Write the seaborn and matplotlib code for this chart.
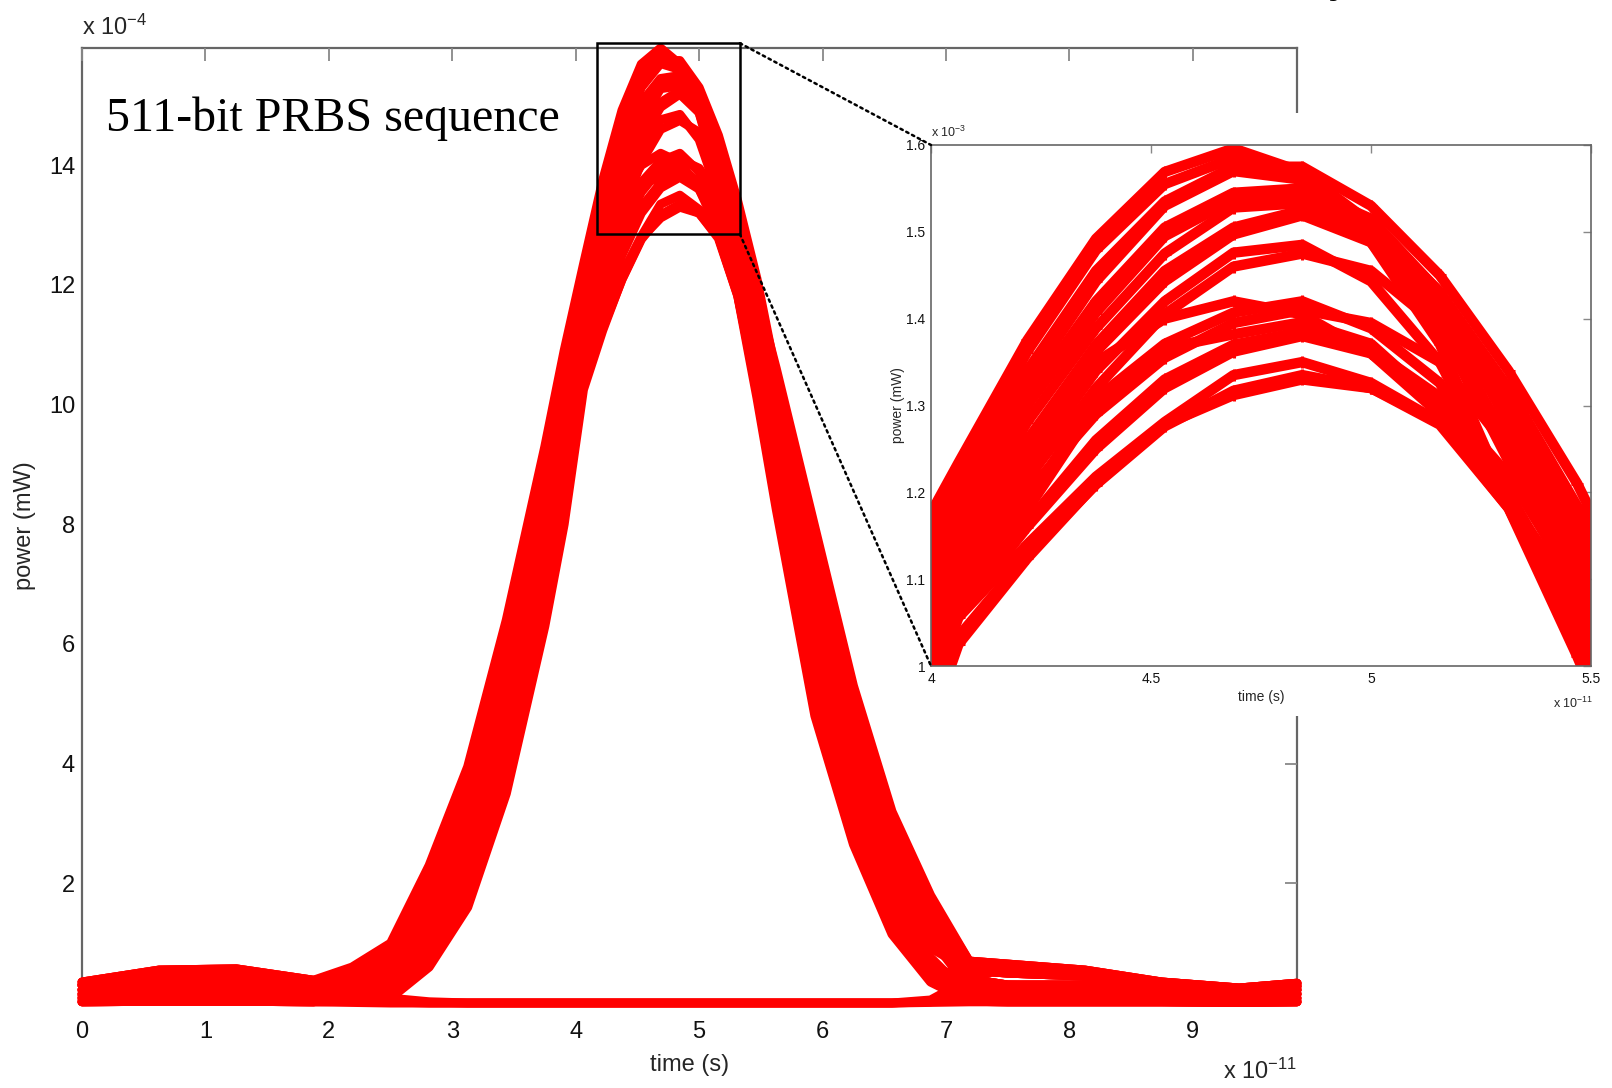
import matplotlib
matplotlib.use('Agg')
from matplotlib import pyplot as plt
from matplotlib.patches import Rectangle, ConnectionPatch
import pandas as pd
import seaborn as sns

# time in units of 1e-11 s, power in units of 1e-4 mW
t_grid = [0.0, 0.625, 1.25, 1.875, 2.1875, 2.5, 2.8125, 3.125, 3.4375, 3.75, 3.90625,
          4.0625, 4.21875, 4.375, 4.53125, 4.6875, 4.84375, 5.0, 5.15625, 5.3125, 5.46875,
          5.625, 5.9375, 6.25, 6.5625, 6.875, 7.1875, 7.5, 8.125, 8.75, 9.375, 9.84375]

one_a1 = [0.35, 0.55, 0.57, 0.38, 0.60, 1.00, 2.30, 3.95, 6.40, 9.30, 10.90, 12.34, 13.75, 14.92, 15.69, 15.96,
          15.69, 15.00, 13.90, 12.50, 10.90, 9.33, 6.25, 3.87, 2.09, 1.02, 0.55, 0.50, 0.45, 0.30, 0.20, 0.28]
one_a2 = [0.30, 0.45, 0.47, 0.32, 0.55, 0.93, 2.16, 3.76, 6.17, 9.06, 10.67, 12.18, 13.62, 14.79, 15.55, 15.85,
          15.69, 15.10, 14.31, 13.20, 11.84, 10.60, 7.95, 5.30, 3.20, 1.80, 0.70, 0.65, 0.55, 0.35, 0.25, 0.33]
one_a3 = [0.22, 0.35, 0.33, 0.25, 0.45, 0.77, 1.88, 3.36, 5.68, 8.55, 10.18, 11.82, 13.26, 14.43, 15.30, 15.70,
          15.60, 15.05, 14.10, 12.90, 11.50, 10.13, 7.32, 4.77, 2.79, 1.51, 0.40, 0.30, 0.30, 0.22, 0.15, 0.22]
one_b1 = [0.35, 0.55, 0.57, 0.38, 0.42, 0.71, 1.77, 3.22, 5.50, 8.37, 10.00, 11.69, 13.00, 14.07, 14.95, 15.37,
          15.44, 15.00, 14.02, 12.54, 11.24, 9.78, 6.85, 4.37, 2.48, 1.29, 0.70, 0.65, 0.55, 0.35, 0.25, 0.33]
one_b2 = [0.15, 0.22, 0.20, 0.15, 0.35, 0.61, 1.59, 2.96, 5.18, 8.04, 9.68, 11.46, 12.81, 13.89, 14.75, 15.28,
          15.33, 14.88, 13.90, 12.36, 11.00, 9.45, 6.41, 4.00, 2.20, 1.09, 0.25, 0.20, 0.20, 0.15, 0.10, 0.15]
one_c1 = [0.30, 0.45, 0.47, 0.32, 0.30, 0.51, 1.40, 2.70, 4.86, 7.71, 9.36, 11.24, 12.45, 13.62, 14.43, 14.97,
          15.19, 14.88, 13.71, 11.91, 10.79, 9.17, 6.03, 3.68, 1.95, 0.92, 0.55, 0.50, 0.45, 0.30, 0.20, 0.28]
one_c2 = [0.08, 0.12, 0.10, 0.07, 0.25, 0.46, 1.30, 2.56, 4.69, 7.53, 9.19, 11.10, 12.30, 13.40, 14.20, 14.76,
          14.85, 14.43, 13.50, 12.00, 10.60, 8.91, 5.68, 3.39, 1.72, 0.76, 0.12, 0.10, 0.10, 0.08, 0.05, 0.08]
one_d1 = [0.22, 0.35, 0.33, 0.25, 0.20, 0.37, 1.13, 2.33, 4.40, 7.23, 8.90, 10.90, 11.91, 13.08, 13.71, 14.07,
          14.20, 13.89, 13.26, 11.90, 10.40, 8.65, 5.34, 3.10, 1.50, 0.60, 0.40, 0.30, 0.30, 0.22, 0.15, 0.22]
one_d2 = [0.02, 0.03, 0.03, 0.02, 0.17, 0.32, 1.04, 2.21, 4.25, 7.08, 8.75, 10.80, 11.80, 12.99, 13.66, 13.82,
          13.96, 13.71, 13.00, 11.85, 10.35, 8.58, 5.24, 3.02, 1.44, 0.55, 0.03, 0.02, 0.02, 0.02, 0.01, 0.02]
one_e1 = [0.15, 0.22, 0.20, 0.15, 0.12, 0.21, 0.84, 1.93, 3.91, 6.72, 8.41, 10.56, 11.40, 12.18, 12.81, 13.35,
          13.50, 13.26, 12.81, 11.82, 10.29, 8.49, 5.12, 2.92, 1.36, 0.50, 0.25, 0.20, 0.20, 0.15, 0.10, 0.15]
one_e2 = [0.08, 0.12, 0.10, 0.07, 0.06, 0.12, 0.67, 1.69, 3.62, 6.42, 8.12, 10.34, 11.28, 12.09, 12.76, 13.17,
          13.35, 13.20, 12.81, 11.85, 10.20, 8.37, 4.96, 2.78, 1.25, 0.42, 0.12, 0.10, 0.10, 0.08, 0.05, 0.08]
one_e3 = [0.02, 0.03, 0.03, 0.02, 0.03, 0.08, 0.60, 1.60, 3.50, 6.30, 8.00, 10.25, 11.24, 12.10, 12.78, 13.12,
          13.30, 13.20, 12.78, 11.82, 10.11, 8.25, 4.80, 2.65, 1.15, 0.35, 0.03, 0.02, 0.02, 0.02, 0.01, 0.02]
one_f1 = [0.30, 0.45, 0.47, 0.32, 0.52, 0.88, 2.08, 3.64, 6.02, 8.91, 10.52, 12.00, 13.40, 14.55, 15.35, 15.75,
          15.75, 15.30, 14.50, 13.40, 12.10, 10.48, 7.79, 5.17, 3.10, 1.73, 0.70, 0.65, 0.55, 0.35, 0.25, 0.33]
one_f2 = [0.22, 0.35, 0.33, 0.25, 0.40, 0.68, 1.71, 3.13, 5.39, 8.25, 9.89, 11.60, 13.10, 14.20, 15.05, 15.45,
          15.50, 15.15, 14.30, 13.00, 11.70, 10.41, 7.70, 5.09, 3.04, 1.68, 0.55, 0.50, 0.45, 0.30, 0.20, 0.28]
one_f3 = [0.15, 0.22, 0.20, 0.15, 0.33, 0.57, 1.50, 2.85, 5.04, 7.89, 9.54, 11.35, 12.60, 13.70, 14.55, 15.05,
          15.25, 15.00, 14.20, 12.80, 11.40, 10.01, 7.16, 4.64, 2.69, 1.44, 0.40, 0.30, 0.30, 0.22, 0.15, 0.22]
one_f4 = [0.08, 0.12, 0.10, 0.07, 0.22, 0.41, 1.21, 2.45, 4.54, 7.38, 9.04, 11.00, 12.15, 13.20, 14.05, 14.60,
          14.75, 14.55, 13.90, 12.60, 11.20, 9.73, 6.78, 4.32, 2.44, 1.26, 0.55, 0.50, 0.45, 0.30, 0.20, 0.28]
one_f5 = [0.35, 0.55, 0.57, 0.38, 0.33, 0.38, 1.16, 2.38, 4.46, 7.29, 8.96, 10.95, 12.00, 12.90, 13.55, 13.95,
          14.10, 13.95, 13.50, 12.50, 11.10, 9.61, 6.63, 4.19, 2.34, 1.19, 0.25, 0.20, 0.20, 0.15, 0.10, 0.15]
one_f6 = [0.02, 0.03, 0.03, 0.02, 0.14, 0.27, 0.96, 2.09, 4.11, 6.93, 8.61, 10.70, 11.65, 12.60, 13.30, 13.70,
          13.85, 13.65, 13.10, 12.20, 10.90, 9.33, 6.25, 3.87, 2.09, 1.02, 0.40, 0.30, 0.30, 0.22, 0.15, 0.22]
one_f7 = [0.22, 0.35, 0.33, 0.25, 0.20, 0.23, 0.87, 1.98, 3.96, 6.78, 8.46, 10.60, 11.60, 12.50, 13.20, 13.62,
          13.80, 13.60, 13.00, 11.90, 10.40, 8.65, 5.34, 3.10, 1.50, 0.60, 0.12, 0.10, 0.10, 0.08, 0.05, 0.08]
one_f8 = [0.30, 0.45, 0.47, 0.32, 0.36, 0.63, 1.62, 3.01, 5.24, 8.10, 9.74, 11.50, 12.60, 13.50, 14.00, 14.20,
          14.05, 13.60, 12.90, 11.95, 10.50, 8.77, 5.49, 3.23, 1.60, 0.67, 0.03, 0.02, 0.02, 0.02, 0.01, 0.02]

# "0" bits
zero_a = [0.30, 0.45, 0.47, 0.32, 0.20, 0.08, 0.02, 0.00, 0.00, 0.00, 0.00, 0.00, 0.00, 0.00, 0.00, 0.00,
          0.00, 0.00, 0.00, 0.00, 0.00, 0.00, 0.00, 0.00, 0.00, 0.05, 0.40, 0.60, 0.50, 0.35, 0.25, 0.33]
zero_b = [0.12, 0.20, 0.18, 0.12, 0.06, 0.02, 0.00, 0.00, 0.00, 0.00, 0.00, 0.00, 0.00, 0.00, 0.00, 0.00,
          0.00, 0.00, 0.00, 0.00, 0.00, 0.00, 0.00, 0.00, 0.00, 0.02, 0.15, 0.30, 0.25, 0.15, 0.10, 0.15]
zero_c = [0.02, 0.03, 0.03, 0.02, 0.01, 0.00, 0.00, 0.00, 0.00, 0.00, 0.00, 0.00, 0.00, 0.00, 0.00, 0.00,
          0.00, 0.00, 0.00, 0.00, 0.00, 0.00, 0.00, 0.00, 0.00, 0.01, 0.02, 0.02, 0.02, 0.02, 0.01, 0.02]

traces = {
    'a1': one_a1, 'a2': one_a2, 'a3': one_a3, 'b1': one_b1, 'b2': one_b2, 'c1': one_c1,
    'c2': one_c2, 'd1': one_d1, 'd2': one_d2, 'e1': one_e1, 'e2': one_e2, 'e3': one_e3,
    'f1': one_f1, 'f2': one_f2, 'f3': one_f3, 'f4': one_f4, 'f5': one_f5, 'f6': one_f6,
    'f7': one_f7, 'f8': one_f8,
    'z1': zero_a, 'z2': zero_b, 'z3': zero_c,
}

main_xticks = [0, 1, 2, 3, 4, 5, 6, 7, 8, 9]
main_yticks = [2, 4, 6, 8, 10, 12, 14]
inset_xticks = [4, 4.5, 5, 5.5]
inset_xlabels = ['4', '4.5', '5', '5.5']
inset_yticks = [10, 11, 12, 13, 14, 15, 16]
inset_ylabels = ['1', '1.1', '1.2', '1.3', '1.4', '1.5', '1.6']

df = pd.concat(
    [pd.DataFrame({'t': t_grid, 'p': v, 'trace': k}) for k, v in traces.items()]
).reset_index(drop=True)

sns.set_theme(style='white')
plt.rcParams['font.family'] = ['Liberation Sans', 'DejaVu Sans']
plt.rcParams['mathtext.fontset'] = 'custom'
plt.rcParams['mathtext.rm'] = 'Liberation Sans'
plt.rcParams['mathtext.it'] = 'Liberation Sans:italic'

fig = plt.figure(figsize=(16.12, 10.88), dpi=100)
fig.patch.set_facecolor('white')

W, H = 1612, 1088
ax = fig.add_axes([82 / W, 1 - 1003 / H, (1297 - 82) / W, (1003 - 48) / H])
sns.lineplot(data=df, x='t', y='p', units='trace', estimator=None, sort=False,
             color='#ff0000', lw=6.5, ax=ax, legend=False, clip_on=False,
             solid_joinstyle='round')
ax.set_xlim(0, 9.84375)
ax.set_ylim(0, 15.96)
ax.set_xticks(main_xticks)
ax.set_yticks(main_yticks)
ax.set_xlabel('time (s)', fontsize=17)
ax.set_ylabel('power (mW)', fontsize=17)
ax.xaxis.set_label_coords(0.5, -0.053)
ax.yaxis.set_label_coords(-0.038, 0.5)
ax.tick_params(direction='in', length=9, width=1.3, color='#888888', labelsize=17,
               labelcolor='#111111', top=True, right=True)
ax.tick_params(axis='x', pad=13)
ax.tick_params(axis='y', pad=5)
for s in ax.spines.values():
    s.set_color('#666666')
    s.set_linewidth(1.6)
    s.set_zorder(0.5)
ax.text(0.0, 1.009, r'x 10$^{-4}$', transform=ax.transAxes, ha='left', va='bottom', fontsize=17)
ax.text(1.0, -0.072, r'x 10$^{-11}$', transform=ax.transAxes, ha='right', va='center', fontsize=17)

# zoom box
ax.add_patch(Rectangle((4.17, 12.85), 1.16, 3.19, fill=False, ec='black', lw=1.8,
                       clip_on=False, zorder=5))

fig.text(106 / W, 1 - 131 / H, '511-bit PRBS sequence', family='Liberation Serif',
         fontsize=34.5, ha='left', va='baseline', color='black')
fig.text(1328 / W, 1 + 9 / H, 'y', family='Liberation Serif', fontsize=34.5,
         ha='left', va='baseline', color='black')

# white backing of the inset figure
fig.add_artist(Rectangle((874 / W, 1 - 716 / H), (W - 874) / W, (716 - 113) / H,
                         transform=fig.transFigure, fc='white', ec='none', zorder=1))

axin = fig.add_axes([931 / W, 1 - 666 / H, (1591 - 931) / W, (666 - 145) / H], zorder=2)
sns.lineplot(data=df, x='t', y='p', units='trace', estimator=None, sort=False,
             color='#ff0000', lw=7.5, marker='+', markersize=9, markeredgewidth=2.2,
             markeredgecolor='#ff0000', solid_joinstyle='round', ax=axin, legend=False)
axin.set_xlim(4.0, 5.5)
axin.set_ylim(10, 16)
axin.set_xticks(inset_xticks, inset_xlabels)
axin.set_yticks(inset_yticks, inset_ylabels)
axin.set_xlabel('time (s)', fontsize=10)
axin.set_ylabel('power (mW)', fontsize=10)
axin.xaxis.set_label_coords(0.5, -0.046)
axin.yaxis.set_label_coords(-0.039, 0.5)
axin.tick_params(direction='in', length=6, width=1.0, color='#888888', labelsize=10,
                 labelcolor='#111111', top=True, right=True, pad=4)
for s in axin.spines.values():
    s.set_color('#666666')
    s.set_linewidth(1.2)
axin.text(0.0, 1.01, r'x 10$^{-3}$', transform=axin.transAxes, ha='left', va='bottom', fontsize=9)
axin.text(1.004, -0.071, r'x 10$^{-11}$', transform=axin.transAxes, ha='right', va='center', fontsize=9)

for ya, yb in [(16.04, 16.0), (12.85, 10.0)]:
    con = ConnectionPatch(xyA=(5.33, ya), coordsA=ax.transData, xyB=(4.0, yb),
                          coordsB=axin.transData, ls=(0, (1, 1.6)), lw=1.8, color='black', zorder=6)
    fig.add_artist(con)

fig.savefig('out.png', dpi=100)
